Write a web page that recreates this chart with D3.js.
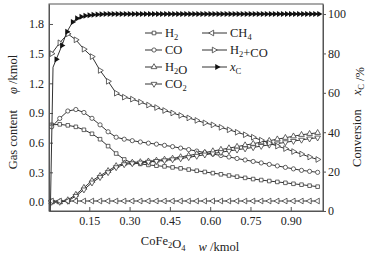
<!doctype html>
<html>
<head>
<meta charset="utf-8">
<style>
  body { margin: 0; background: #fff; }
  svg text { font-family: "Liberation Serif", "Times New Roman", serif; fill: #222; }
  .axis path, .axis line { stroke: #555; }
  .series path.line { fill: none; stroke: #333; stroke-width: 1; }
</style>
</head>
<body>
<svg width="380" height="254"></svg>
<script src="https://d3js.org/d3.v7.min.js"></script>
<script>
// CoFe2O4 amount w (kmol)
var xs = [0.01, 0.04, 0.07, 0.10, 0.13, 0.16, 0.19, 0.22, 0.25, 0.28, 0.31, 0.34, 0.37, 0.40, 0.43, 0.46, 0.49,
  0.52, 0.55, 0.58, 0.61, 0.64, 0.67, 0.70, 0.73, 0.76, 0.79, 0.82, 0.85, 0.88, 0.91, 0.94, 0.97, 1.00];

// gas content (kmol)
var h2 = [0.78, 0.785, 0.775, 0.76, 0.73, 0.69, 0.635, 0.565, 0.49, 0.43, 0.395, 0.385, 0.375, 0.367, 0.36, 0.35, 0.34,
  0.328, 0.316, 0.304, 0.292, 0.28, 0.268, 0.256, 0.244, 0.232, 0.222, 0.212, 0.203, 0.194, 0.184, 0.175, 0.165, 0.155];
var co = [0.76, 0.845, 0.92, 0.935, 0.905, 0.846, 0.78, 0.71, 0.655, 0.635, 0.62, 0.607, 0.595, 0.585, 0.573, 0.56, 0.545,
  0.53, 0.515, 0.50, 0.485, 0.47, 0.455, 0.44, 0.425, 0.41, 0.395, 0.38, 0.365, 0.35, 0.335, 0.32, 0.31, 0.30];
var h2o = [0.0, 0.0, 0.02, 0.075, 0.145, 0.215, 0.265, 0.315, 0.365, 0.39, 0.40, 0.405, 0.412, 0.42, 0.43, 0.44, 0.455,
  0.47, 0.485, 0.50, 0.515, 0.53, 0.545, 0.56, 0.575, 0.59, 0.605, 0.62, 0.635, 0.65, 0.665, 0.68, 0.69, 0.70];
var co2 = [0.0, 0.0, 0.01, 0.06, 0.125, 0.195, 0.25, 0.30, 0.35, 0.38, 0.39, 0.397, 0.405, 0.413, 0.42, 0.43, 0.44,
  0.452, 0.465, 0.478, 0.49, 0.503, 0.516, 0.528, 0.54, 0.552, 0.565, 0.578, 0.59, 0.603, 0.616, 0.628, 0.64, 0.65];
var ch4 = [0.01, 0.01, 0.01, 0.01, 0.01, 0.01, 0.01, 0.01, 0.01, 0.01, 0.01, 0.01, 0.01, 0.01, 0.01, 0.01, 0.01,
  0.01, 0.01, 0.01, 0.01, 0.01, 0.01, 0.01, 0.01, 0.01, 0.01, 0.01, 0.01, 0.01, 0.01, 0.01, 0.01, 0.01];
var h2co = [1.50, 1.61, 1.70, 1.64, 1.545, 1.47, 1.33, 1.22, 1.10, 1.06, 1.04, 1.01, 0.98, 0.955, 0.925, 0.90, 0.875,
  0.85, 0.825, 0.80, 0.78, 0.755, 0.73, 0.705, 0.68, 0.655, 0.625, 0.595, 0.565, 0.54, 0.51, 0.485, 0.455, 0.43];

// carbon conversion x_C (%)
var xcX = [0.005, 0.015, 0.027, 0.048, 0.067, 0.088, 0.104, 0.12, 0.135, 0.15, 0.165, 0.18, 0.195,
  0.21, 0.225, 0.24, 0.255, 0.27, 0.285, 0.30, 0.315, 0.33, 0.345, 0.36, 0.375, 0.39, 0.405, 0.42, 0.435,
  0.45, 0.465, 0.48, 0.495, 0.51, 0.525, 0.54, 0.555, 0.57, 0.585, 0.60, 0.615, 0.63, 0.645, 0.66, 0.675,
  0.69, 0.705, 0.72, 0.735, 0.75, 0.765, 0.78, 0.795, 0.81, 0.825, 0.84, 0.855, 0.87, 0.885, 0.90, 0.915,
  0.93, 0.945, 0.96, 0.975, 0.99, 1.005];
var xcV = [0, 73, 77, 84, 91, 96, 97.8, 98.6, 99.1, 99.4, 99.6, 99.8, 99.9,
  100, 100, 100, 100, 100, 100, 100, 100, 100, 100, 100, 100, 100, 100, 100, 100,
  100, 100, 100, 100, 100, 100, 100, 100, 100, 100, 100, 100, 100, 100, 100, 100,
  100, 100, 100, 100, 100, 100, 100, 100, 100, 100, 100, 100, 100, 100, 100, 100,
  100, 100, 100, 100, 100, 100];

var xTicks = [0.15, 0.30, 0.45, 0.60, 0.75, 0.90];
var yTicks = [0.0, 0.3, 0.6, 0.9, 1.2, 1.5, 1.8];
var rTicks = [0, 20, 40, 60, 80, 100];

var svg = d3.select("svg");
var pL = 49, pR = 323, pT = 4, pB = 211;

var x = d3.scaleLinear().domain([0, 1.02]).range([pL, pR]);
var y = d3.scaleLinear().domain([-0.091, 2.002]).range([pB, pT]);
var yr = d3.scaleLinear().domain([0, 105.1]).range([pB, pT]);

// frame
svg.append("rect")
  .attr("x", pL).attr("y", pT)
  .attr("width", pR - pL).attr("height", pB - pT)
  .attr("fill", "none").attr("stroke", "#555");

svg.append("g").attr("class", "axis")
  .attr("transform", "translate(0," + pB + ")")
  .call(d3.axisBottom(x).tickValues(xTicks).tickFormat(d3.format(".2f")).tickSizeInner(-4).tickSizeOuter(0).tickPadding(5))
  .call(g => g.selectAll("text").attr("font-size", 12));

svg.append("g").attr("class", "axis")
  .attr("transform", "translate(" + pL + ",0)")
  .call(d3.axisLeft(y).tickValues(yTicks).tickFormat(d3.format(".1f")).tickSizeInner(-4).tickSizeOuter(0).tickPadding(5))
  .call(g => g.selectAll("text").attr("font-size", 12));

svg.append("g").attr("class", "axis")
  .attr("transform", "translate(" + pR + ",0)")
  .call(d3.axisRight(yr).tickValues(rTicks).tickSizeInner(3).tickSizeOuter(0).tickPadding(2))
  .call(g => g.selectAll("text").attr("font-size", 12));

var line = d3.line().x(d => x(d[0])).y(d => y(d[1]));
var lineR = d3.line().x(d => x(d[0])).y(d => yr(d[1]));

var series = [
  { name: "H2", v: h2, sym: d3.symbolSquare, rot: 0, size: 13 },
  { name: "CO", v: co, sym: d3.symbolCircle, rot: 0, size: 14 },
  { name: "H2O", v: h2o, sym: d3.symbolTriangle, rot: 0, size: 14 },
  { name: "CO2", v: co2, sym: d3.symbolTriangle, rot: 180, size: 14 },
  { name: "CH4", v: ch4, sym: d3.symbolTriangle, rot: -90, size: 14 },
  { name: "H2+CO", v: h2co, sym: d3.symbolTriangle, rot: 90, size: 14 }
];

series.forEach(function (s) {
  var pts = xs.map((xv, i) => [xv, s.v[i]]);
  var g = svg.append("g").attr("class", "series");
  g.append("path").attr("class", "line").attr("d", line(pts));
  g.selectAll("path.mk").data(pts).enter().append("path")
    .attr("class", "mk")
    .attr("d", d3.symbol().type(s.sym).size(s.size))
    .attr("transform", d => "translate(" + x(d[0]) + "," + y(d[1]) + ") rotate(" + s.rot + ")")
    .attr("fill", "#fff").attr("stroke", "#333").attr("stroke-width", 0.75);
});

var xcPts = xcX.map((xv, i) => [xv, xcV[i]]);
var gx = svg.append("g").attr("class", "series");
gx.append("path").attr("class", "line").attr("d", lineR(xcPts));
gx.selectAll("path.mk").data(xcPts.filter((d, i) => i >= 2)).enter().append("path")
  .attr("d", d3.symbol().type(d3.symbolTriangle).size(16))
  .attr("transform", d => "translate(" + x(d[0]) + "," + yr(d[1]) + ") rotate(90)")
  .attr("fill", "#111");

// legend
function sub(t, txt) {
  t.append("tspan").attr("font-size", 8.5).attr("dy", 3).text(txt);
  t.append("tspan").attr("dy", -3).text("");
}
var legend = [
  { s: series[0], lx: 145, ly: 33, mk: 154, label: ["H", "2", ""] },
  { s: series[1], lx: 145, ly: 50, mk: 154, label: ["CO", "", ""] },
  { s: series[2], lx: 145, ly: 67, mk: 154, label: ["H", "2", "O"] },
  { s: series[3], lx: 145, ly: 84, mk: 154, label: ["CO", "2", ""] },
  { s: series[4], lx: 202, ly: 33, mk: 212, label: ["CH", "4", ""] },
  { s: series[5], lx: 202, ly: 50, mk: 214, label: ["H", "2", "+CO"] }
];
legend.forEach(function (e) {
  var w = e.lx === 145 ? 17 : 25;
  svg.append("line").attr("x1", e.lx).attr("x2", e.lx + w).attr("y1", e.ly).attr("y2", e.ly)
    .attr("stroke", "#333").attr("stroke-width", 1);
  svg.append("path")
    .attr("d", d3.symbol().type(e.s.sym).size(e.s.size))
    .attr("transform", "translate(" + e.mk + "," + e.ly + ") rotate(" + e.s.rot + ")")
    .attr("fill", "#fff").attr("stroke", "#333").attr("stroke-width", 0.75);
  var t = svg.append("text").attr("x", e.lx + w + 3).attr("y", e.ly + 4).attr("font-size", 12.5);
  t.append("tspan").text(e.label[0]);
  if (e.label[1]) sub(t, e.label[1]);
  if (e.label[2]) t.append("tspan").text(e.label[2]);
});
svg.append("line").attr("x1", 202).attr("x2", 227).attr("y1", 67).attr("y2", 67).attr("stroke", "#333");
svg.append("path").attr("d", d3.symbol().type(d3.symbolTriangle).size(16))
  .attr("transform", "translate(217,67) rotate(90)").attr("fill", "#111");
var tx = svg.append("text").attr("x", 230).attr("y", 71).attr("font-size", 12.5);
tx.append("tspan").attr("font-style", "italic").text("x");
sub(tx, "C");

// axis titles
var xt = svg.append("text").attr("x", 190).attr("y", 245).attr("text-anchor", "middle").attr("font-size", 12.5);
xt.append("tspan").text("CoFe");
sub(xt, "2");
xt.append("tspan").text("O");
sub(xt, "4");
xt.append("tspan").attr("dx", 13).attr("font-style", "italic").text("w");
xt.append("tspan").text(" /kmol");

var lt = svg.append("text").attr("transform", "translate(17,112) rotate(-90)")
  .attr("text-anchor", "middle").attr("font-size", 12.5);
lt.append("tspan").text("Gas content");
lt.append("tspan").attr("dx", 16).attr("font-style", "italic").text("φ");
lt.append("tspan").text(" /kmol");

var rt = svg.append("text").attr("transform", "translate(361,117) rotate(-90)")
  .attr("text-anchor", "middle").attr("font-size", 12.5);
rt.append("tspan").text("Conversion");
rt.append("tspan").attr("dx", 14).attr("font-style", "italic").text("x");
sub(rt, "C");
rt.append("tspan").text(" /%");
</script>
</body>
</html>
